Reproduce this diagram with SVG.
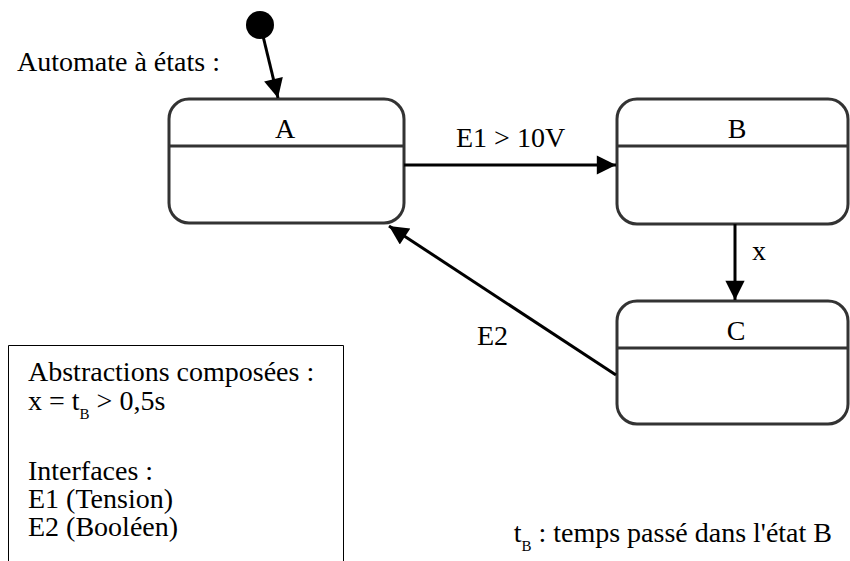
<svg xmlns="http://www.w3.org/2000/svg" width="850" height="561" viewBox="0 0 850 561">
<style>
.st{fill:#fff;stroke:#333;stroke-width:3}
.dv{stroke:#333;stroke-width:3}
.c{text-anchor:middle}
.e{stroke:#000;stroke-width:3;fill:none}
</style>
<defs>
<marker id="ah" viewBox="0 0 10 10" refX="10" refY="5" markerWidth="9" markerHeight="6.4" markerUnits="strokeWidth" orient="auto">
<path d="M0,0L10,5L0,10z" fill="#000"/>
</marker>
</defs>
<rect x="0" y="0" width="850" height="561" fill="#fff"/>
<g font-family="Liberation Serif, Times New Roman, DejaVu Serif, serif" font-size="28" fill="#000">
<text x="17" y="71">Automate à états :</text>
<g id="init"><circle cx="260" cy="25" r="14" fill="#000"/></g>
<g id="A"><rect class="st" x="169" y="99" width="235" height="124" rx="20"/><line class="dv" x1="169" y1="146" x2="404" y2="146"/><text class="c" x="285" y="138">A</text></g>
<g id="B"><rect class="st" x="617" y="99" width="231" height="125" rx="20"/><line class="dv" x1="617" y1="146" x2="848" y2="146"/><text class="c" x="737" y="138">B</text></g>
<g id="C"><rect class="st" x="617" y="301" width="231" height="123" rx="20"/><line class="dv" x1="617" y1="348" x2="848" y2="348"/><text class="c" x="736" y="340">C</text></g>
<g id="edges">
<line class="e" x1="263" y1="36" x2="278" y2="98" marker-end="url(#ah)"/>
<line class="e" x1="404" y1="165" x2="616" y2="165" marker-end="url(#ah)"/>
<line class="e" x1="735" y1="224" x2="735" y2="300" marker-end="url(#ah)"/>
<line class="e" x1="616" y1="375" x2="389" y2="226" marker-end="url(#ah)"/>
<text x="456" y="147">E1 &gt; 10V</text>
<text x="752" y="260">x</text>
<text x="477" y="345">E2</text>
</g>
<g id="legend">
<path d="M8.5,561V345.5H343.5V561" fill="none" stroke="#000" stroke-width="1"/>
<text x="28" y="381">Abstractions composées :</text>
<text x="28" y="410">x = t<tspan font-size="15" dy="9">B</tspan><tspan dy="-9"> &gt; 0,5s</tspan></text>
<text x="28" y="480">Interfaces :</text>
<text x="28" y="508">E1 (Tension)</text>
<text x="28" y="536">E2 (Booléen)</text>
</g>
<text x="832" y="542" text-anchor="end">t<tspan font-size="15" dy="9">B</tspan><tspan dy="-9"> : temps passé dans l'état B</tspan></text>
</g>
</svg>
